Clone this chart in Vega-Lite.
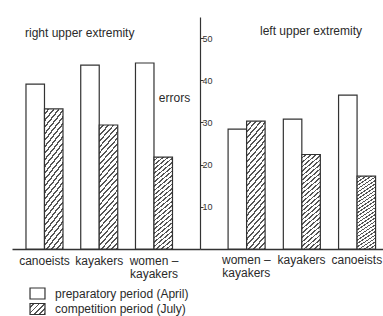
{
  "$schema": "https://vega.github.io/schema/vega-lite/v6.json",
  "background": "white",
  "padding": {"left": 12, "top": 17, "right": 0, "bottom": 0},
  "bounds": "flush",
  "spacing": 0,
  "config": {
    "view": {"stroke": null},
    "font": "Liberation Sans",
    "axis": {"labelFont": "Liberation Sans", "titleFont": "Liberation Sans", "grid": false},
    "legend": {"labelFont": "Liberation Sans"},
    "title": {"font": "Liberation Sans"}
  },
  "datasets": {
    "bars": [
      {"panel": "right upper extremity", "group": "canoeists", "period": "preparatory period (April)", "errors": 39.1},
      {"panel": "right upper extremity", "group": "canoeists", "period": "competition period (July)", "errors": 33.2},
      {"panel": "right upper extremity", "group": "kayakers", "period": "preparatory period (April)", "errors": 43.6},
      {"panel": "right upper extremity", "group": "kayakers", "period": "competition period (July)", "errors": 29.4},
      {"panel": "right upper extremity", "group": "women – kayakers", "period": "preparatory period (April)", "errors": 44.1},
      {"panel": "right upper extremity", "group": "women – kayakers", "period": "competition period (July)", "errors": 21.8},
      {"panel": "left upper extremity", "group": "women – kayakers", "period": "preparatory period (April)", "errors": 28.4},
      {"panel": "left upper extremity", "group": "women – kayakers", "period": "competition period (July)", "errors": 30.3},
      {"panel": "left upper extremity", "group": "kayakers", "period": "preparatory period (April)", "errors": 30.8},
      {"panel": "left upper extremity", "group": "kayakers", "period": "competition period (July)", "errors": 22.4},
      {"panel": "left upper extremity", "group": "canoeists", "period": "preparatory period (April)", "errors": 36.5},
      {"panel": "left upper extremity", "group": "canoeists", "period": "competition period (July)", "errors": 17.3}
    ]
  },
  "hconcat": [
    {
      "width": 188,
      "height": 232,
      "title": {"text": "right upper extremity", "anchor": "start", "frame": "group", "dx": 13, "offset": -23, "fontSize": 12, "fontWeight": "normal", "color": "#2a2a2a"},
      "data": {"name": "bars"},
      "transform": [{"filter": "datum.panel === 'right upper extremity'"}],
      "encoding": {
        "x": {
          "field": "group", "type": "nominal",
          "sort": ["canoeists", "kayakers", "women – kayakers"],
          "scale": {"paddingInner": 0.324, "paddingOuter": 0.379, "align": 0.337},
          "axis": {"title": null, "labelAngle": 0, "ticks": false, "domainColor": "#333", "domainWidth": 1.3, "labelFontSize": 12, "labelColor": "#2a2a2a", "labelPadding": 6, "labelBaseline": "top", "labelLineHeight": 13, "labelOverlap": false, "labelExpr": "datum.label == 'women – kayakers' ? ['women –', 'kayakers'] : datum.label"}
        },
        "xOffset": {"field": "period", "type": "nominal", "sort": ["preparatory period (April)", "competition period (July)"], "scale": {"paddingInner": 0, "paddingOuter": 0}},
        "y": {"field": "errors", "type": "quantitative", "scale": {"domain": [0, 55], "nice": false}, "axis": null}
      },
      "layer": [
        {
          "mark": {"type": "bar", "stroke": "#333", "strokeWidth": 1.2},
          "encoding": {
            "fill": {
              "condition": {"test": "datum.period === 'competition period (July)'", "value": {"gradient": "linear", "x1": 0, "y1": 0, "x2": 0.191, "y2": 1.136, "stops": [
                  {"offset": 0, "color": "#fff"}, {"offset": 0.026, "color": "#fff"}, {"offset": 0.026, "color": "#555"}, {"offset": 0.04, "color": "#555"},
                  {"offset": 0.04, "color": "#fff"}, {"offset": 0.066, "color": "#fff"}, {"offset": 0.066, "color": "#555"}, {"offset": 0.08, "color": "#555"},
                  {"offset": 0.08, "color": "#fff"}, {"offset": 0.106, "color": "#fff"}, {"offset": 0.106, "color": "#555"}, {"offset": 0.12, "color": "#555"},
                  {"offset": 0.12, "color": "#fff"}, {"offset": 0.146, "color": "#fff"}, {"offset": 0.146, "color": "#555"}, {"offset": 0.16, "color": "#555"},
                  {"offset": 0.16, "color": "#fff"}, {"offset": 0.186, "color": "#fff"}, {"offset": 0.186, "color": "#555"}, {"offset": 0.2, "color": "#555"},
                  {"offset": 0.2, "color": "#fff"}, {"offset": 0.226, "color": "#fff"}, {"offset": 0.226, "color": "#555"}, {"offset": 0.24, "color": "#555"},
                  {"offset": 0.24, "color": "#fff"}, {"offset": 0.266, "color": "#fff"}, {"offset": 0.266, "color": "#555"}, {"offset": 0.28, "color": "#555"},
                  {"offset": 0.28, "color": "#fff"}, {"offset": 0.306, "color": "#fff"}, {"offset": 0.306, "color": "#555"}, {"offset": 0.32, "color": "#555"},
                  {"offset": 0.32, "color": "#fff"}, {"offset": 0.346, "color": "#fff"}, {"offset": 0.346, "color": "#555"}, {"offset": 0.36, "color": "#555"},
                  {"offset": 0.36, "color": "#fff"}, {"offset": 0.386, "color": "#fff"}, {"offset": 0.386, "color": "#555"}, {"offset": 0.4, "color": "#555"},
                  {"offset": 0.4, "color": "#fff"}, {"offset": 0.426, "color": "#fff"}, {"offset": 0.426, "color": "#555"}, {"offset": 0.44, "color": "#555"},
                  {"offset": 0.44, "color": "#fff"}, {"offset": 0.466, "color": "#fff"}, {"offset": 0.466, "color": "#555"}, {"offset": 0.48, "color": "#555"},
                  {"offset": 0.48, "color": "#fff"}, {"offset": 0.506, "color": "#fff"}, {"offset": 0.506, "color": "#555"}, {"offset": 0.52, "color": "#555"},
                  {"offset": 0.52, "color": "#fff"}, {"offset": 0.546, "color": "#fff"}, {"offset": 0.546, "color": "#555"}, {"offset": 0.56, "color": "#555"},
                  {"offset": 0.56, "color": "#fff"}, {"offset": 0.586, "color": "#fff"}, {"offset": 0.586, "color": "#555"}, {"offset": 0.6, "color": "#555"},
                  {"offset": 0.6, "color": "#fff"}, {"offset": 0.626, "color": "#fff"}, {"offset": 0.626, "color": "#555"}, {"offset": 0.64, "color": "#555"},
                  {"offset": 0.64, "color": "#fff"}, {"offset": 0.666, "color": "#fff"}, {"offset": 0.666, "color": "#555"}, {"offset": 0.68, "color": "#555"},
                  {"offset": 0.68, "color": "#fff"}, {"offset": 0.706, "color": "#fff"}, {"offset": 0.706, "color": "#555"}, {"offset": 0.72, "color": "#555"},
                  {"offset": 0.72, "color": "#fff"}, {"offset": 0.746, "color": "#fff"}, {"offset": 0.746, "color": "#555"}, {"offset": 0.76, "color": "#555"},
                  {"offset": 0.76, "color": "#fff"}, {"offset": 0.786, "color": "#fff"}, {"offset": 0.786, "color": "#555"}, {"offset": 0.8, "color": "#555"},
                  {"offset": 0.8, "color": "#fff"}, {"offset": 0.826, "color": "#fff"}, {"offset": 0.826, "color": "#555"}, {"offset": 0.84, "color": "#555"},
                  {"offset": 0.84, "color": "#fff"}, {"offset": 0.866, "color": "#fff"}, {"offset": 0.866, "color": "#555"}, {"offset": 0.88, "color": "#555"},
                  {"offset": 0.88, "color": "#fff"}, {"offset": 0.906, "color": "#fff"}, {"offset": 0.906, "color": "#555"}, {"offset": 0.92, "color": "#555"},
                  {"offset": 0.92, "color": "#fff"}, {"offset": 0.946, "color": "#fff"}, {"offset": 0.946, "color": "#555"}, {"offset": 0.96, "color": "#555"},
                  {"offset": 0.96, "color": "#fff"}, {"offset": 0.986, "color": "#fff"}, {"offset": 0.986, "color": "#555"}, {"offset": 1, "color": "#555"}
                ]}},
              "value": "white"
            }
          }
        },
        {
          "mark": {"type": "square", "opacity": 0},
          "encoding": {
            "fill": {
              "field": "period", "type": "nominal",
              "scale": {
                "domain": ["preparatory period (April)", "competition period (July)"],
                "range": ["white", {"expr": "{gradient: 'linear', x1: 0, y1: 0, x2: 1.127, y2: 0.827, stops: [{offset: 0, color: '#fff'}, {offset: 0.13, color: '#fff'}, {offset: 0.13, color: '#555'}, {offset: 0.2, color: '#555'}, {offset: 0.2, color: '#fff'}, {offset: 0.33, color: '#fff'}, {offset: 0.33, color: '#555'}, {offset: 0.4, color: '#555'}, {offset: 0.4, color: '#fff'}, {offset: 0.53, color: '#fff'}, {offset: 0.53, color: '#555'}, {offset: 0.6, color: '#555'}, {offset: 0.6, color: '#fff'}, {offset: 0.73, color: '#fff'}, {offset: 0.73, color: '#555'}, {offset: 0.8, color: '#555'}, {offset: 0.8, color: '#fff'}, {offset: 0.93, color: '#fff'}, {offset: 0.93, color: '#555'}, {offset: 1, color: '#555'}]}"}]
              },
              "legend": {
                "title": null, "orient": "none", "legendX": 19, "legendY": 270, "direction": "vertical",
                "symbolType": "M-1.36,-1H1.36V1H-1.36Z", "symbolSize": 121, "symbolStrokeColor": "#333", "symbolStrokeWidth": 1.2, "symbolOpacity": 1,
                "labelFontSize": 12, "labelColor": "#2a2a2a", "labelOffset": 11, "labelLimit": 300, "rowPadding": -1.5, "padding": 0
              }
            }
          }
        }
      ]
    },
    {
      "width": 183,
      "height": 232,
      "title": {"text": "left upper extremity", "anchor": "start", "frame": "group", "dx": 60, "offset": -21, "fontSize": 12, "fontWeight": "normal", "color": "#2a2a2a"},
      "data": {"name": "bars"},
      "transform": [{"filter": "datum.panel === 'left upper extremity'"}],
      "mark": {"type": "bar", "stroke": "#333", "strokeWidth": 1.2},
      "encoding": {
        "x": {
          "field": "group", "type": "nominal",
          "sort": ["women – kayakers", "kayakers", "canoeists"],
          "scale": {"paddingInner": 0.339, "paddingOuter": 0.326, "align": 0.78},
          "axis": {"title": null, "labelAngle": 0, "ticks": false, "domainColor": "#333", "domainWidth": 1.3, "labelFontSize": 12, "labelColor": "#2a2a2a", "labelPadding": 5, "labelBaseline": "top", "labelLineHeight": 13, "labelOverlap": false, "labelExpr": "datum.label == 'women – kayakers' ? ['women –', 'kayakers'] : datum.label"}
        },
        "xOffset": {"field": "period", "type": "nominal", "sort": ["preparatory period (April)", "competition period (July)"], "scale": {"paddingInner": 0, "paddingOuter": 0}},
        "y": {
          "field": "errors", "type": "quantitative",
          "scale": {"domain": [0, 55], "nice": false},
          "axis": {"orient": "left", "values": [10, 20, 30, 40, 50], "tickSize": -3, "tickColor": "#333", "tickWidth": 1, "labelPadding": 1, "labelAlign": "left", "labelBaseline": "middle", "labelFontSize": 9, "labelColor": "#333", "domainColor": "#333", "domainWidth": 1.2, "title": "errors", "titleAngle": 0, "titleX": -26, "titleY": 80, "titleAlign": "center", "titleBaseline": "middle", "titleFontSize": 12, "titleFontWeight": "normal", "titleColor": "#2a2a2a"}
        },
        "fill": {
          "condition": {"test": "datum.period === 'competition period (July)'", "value": {"gradient": "linear", "x1": 0, "y1": 0, "x2": 0.191, "y2": 1.136, "stops": [
              {"offset": 0, "color": "#fff"}, {"offset": 0.026, "color": "#fff"}, {"offset": 0.026, "color": "#555"}, {"offset": 0.04, "color": "#555"},
              {"offset": 0.04, "color": "#fff"}, {"offset": 0.066, "color": "#fff"}, {"offset": 0.066, "color": "#555"}, {"offset": 0.08, "color": "#555"},
              {"offset": 0.08, "color": "#fff"}, {"offset": 0.106, "color": "#fff"}, {"offset": 0.106, "color": "#555"}, {"offset": 0.12, "color": "#555"},
              {"offset": 0.12, "color": "#fff"}, {"offset": 0.146, "color": "#fff"}, {"offset": 0.146, "color": "#555"}, {"offset": 0.16, "color": "#555"},
              {"offset": 0.16, "color": "#fff"}, {"offset": 0.186, "color": "#fff"}, {"offset": 0.186, "color": "#555"}, {"offset": 0.2, "color": "#555"},
              {"offset": 0.2, "color": "#fff"}, {"offset": 0.226, "color": "#fff"}, {"offset": 0.226, "color": "#555"}, {"offset": 0.24, "color": "#555"},
              {"offset": 0.24, "color": "#fff"}, {"offset": 0.266, "color": "#fff"}, {"offset": 0.266, "color": "#555"}, {"offset": 0.28, "color": "#555"},
              {"offset": 0.28, "color": "#fff"}, {"offset": 0.306, "color": "#fff"}, {"offset": 0.306, "color": "#555"}, {"offset": 0.32, "color": "#555"},
              {"offset": 0.32, "color": "#fff"}, {"offset": 0.346, "color": "#fff"}, {"offset": 0.346, "color": "#555"}, {"offset": 0.36, "color": "#555"},
              {"offset": 0.36, "color": "#fff"}, {"offset": 0.386, "color": "#fff"}, {"offset": 0.386, "color": "#555"}, {"offset": 0.4, "color": "#555"},
              {"offset": 0.4, "color": "#fff"}, {"offset": 0.426, "color": "#fff"}, {"offset": 0.426, "color": "#555"}, {"offset": 0.44, "color": "#555"},
              {"offset": 0.44, "color": "#fff"}, {"offset": 0.466, "color": "#fff"}, {"offset": 0.466, "color": "#555"}, {"offset": 0.48, "color": "#555"},
              {"offset": 0.48, "color": "#fff"}, {"offset": 0.506, "color": "#fff"}, {"offset": 0.506, "color": "#555"}, {"offset": 0.52, "color": "#555"},
              {"offset": 0.52, "color": "#fff"}, {"offset": 0.546, "color": "#fff"}, {"offset": 0.546, "color": "#555"}, {"offset": 0.56, "color": "#555"},
              {"offset": 0.56, "color": "#fff"}, {"offset": 0.586, "color": "#fff"}, {"offset": 0.586, "color": "#555"}, {"offset": 0.6, "color": "#555"},
              {"offset": 0.6, "color": "#fff"}, {"offset": 0.626, "color": "#fff"}, {"offset": 0.626, "color": "#555"}, {"offset": 0.64, "color": "#555"},
              {"offset": 0.64, "color": "#fff"}, {"offset": 0.666, "color": "#fff"}, {"offset": 0.666, "color": "#555"}, {"offset": 0.68, "color": "#555"},
              {"offset": 0.68, "color": "#fff"}, {"offset": 0.706, "color": "#fff"}, {"offset": 0.706, "color": "#555"}, {"offset": 0.72, "color": "#555"},
              {"offset": 0.72, "color": "#fff"}, {"offset": 0.746, "color": "#fff"}, {"offset": 0.746, "color": "#555"}, {"offset": 0.76, "color": "#555"},
              {"offset": 0.76, "color": "#fff"}, {"offset": 0.786, "color": "#fff"}, {"offset": 0.786, "color": "#555"}, {"offset": 0.8, "color": "#555"},
              {"offset": 0.8, "color": "#fff"}, {"offset": 0.826, "color": "#fff"}, {"offset": 0.826, "color": "#555"}, {"offset": 0.84, "color": "#555"},
              {"offset": 0.84, "color": "#fff"}, {"offset": 0.866, "color": "#fff"}, {"offset": 0.866, "color": "#555"}, {"offset": 0.88, "color": "#555"},
              {"offset": 0.88, "color": "#fff"}, {"offset": 0.906, "color": "#fff"}, {"offset": 0.906, "color": "#555"}, {"offset": 0.92, "color": "#555"},
              {"offset": 0.92, "color": "#fff"}, {"offset": 0.946, "color": "#fff"}, {"offset": 0.946, "color": "#555"}, {"offset": 0.96, "color": "#555"},
              {"offset": 0.96, "color": "#fff"}, {"offset": 0.986, "color": "#fff"}, {"offset": 0.986, "color": "#555"}, {"offset": 1, "color": "#555"}
            ]}},
          "value": "white"
        }
      }
    }
  ]
}
